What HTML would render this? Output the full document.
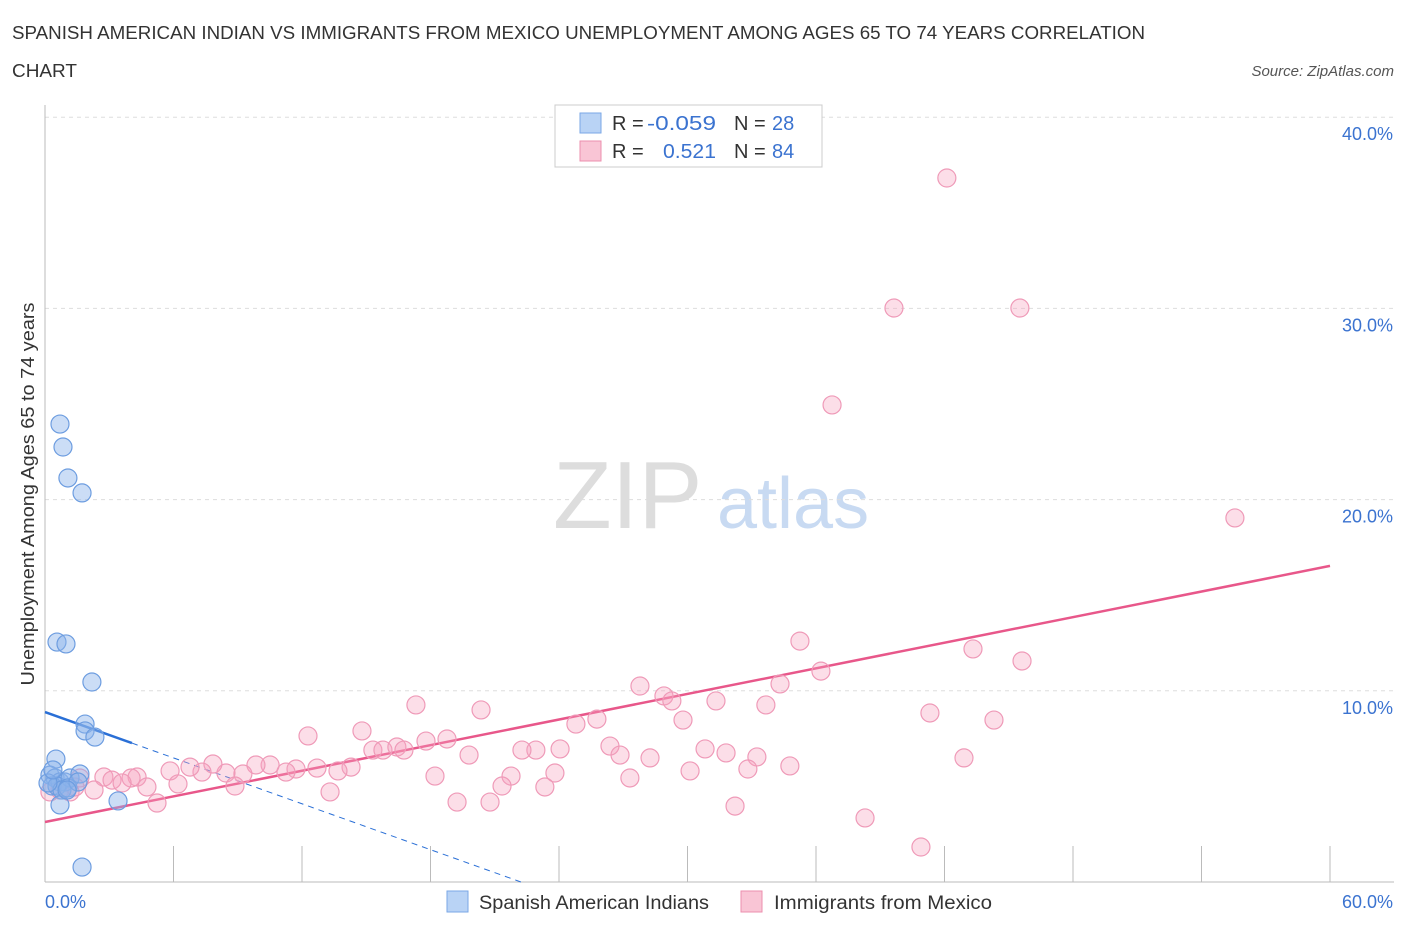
<!DOCTYPE html>
<html><head><meta charset="utf-8"><style>
body{margin:0;background:#fff;font-family:"Liberation Sans",sans-serif;}
svg text{font-family:"Liberation Sans",sans-serif;}
</style></head><body>
<svg id="chart" width="1406" height="930" viewBox="0 0 1406 930" xmlns="http://www.w3.org/2000/svg">
<text x="12" y="39" font-size="18" fill="#333" textLength="1133" lengthAdjust="spacingAndGlyphs">SPANISH AMERICAN INDIAN VS IMMIGRANTS FROM MEXICO UNEMPLOYMENT AMONG AGES 65 TO 74 YEARS CORRELATION</text>
<text x="12" y="77" font-size="18" fill="#333" textLength="65" lengthAdjust="spacingAndGlyphs">CHART</text>
<text x="1394" y="76" font-size="15" fill="#555" font-style="italic" text-anchor="end">Source: ZipAtlas.com</text>
<g>
<text x="553" y="528" font-size="96" fill="#ddd" font-family="Liberation Serif, serif">ZIP</text>
<text x="717" y="528" font-size="72" fill="#c8daf2">atlas</text>
</g>
<g id="grid"></g>
<g id="axes"></g>
<g id="lines"></g>
<g id="points"></g>
<text transform="translate(34,494) rotate(-90)" font-size="18" fill="#333" text-anchor="middle" textLength="383" lengthAdjust="spacingAndGlyphs">Unemployment Among Ages 65 to 74 years</text>
<text x="45" y="908" font-size="18" fill="#3b73d0">0.0%</text>
<text x="1393" y="908" font-size="18" fill="#3b73d0" text-anchor="end">60.0%</text>
<g>
<rect x="555" y="105" width="267" height="62" fill="#fff" stroke="#ccc"/>
<rect x="580" y="113" width="21" height="20" fill="#b9d3f5" stroke="#7aa7e6"/>
<text x="612" y="130" font-size="20" fill="#333">R =</text>
<text x="647" y="130" font-size="20" fill="#3b73d0" textLength="69" lengthAdjust="spacingAndGlyphs">-0.059</text>
<text x="734" y="130" font-size="20" fill="#333">N =</text>
<text x="772" y="130" font-size="20" fill="#3b73d0">28</text>
<rect x="580" y="141" width="21" height="20" fill="#f9c5d5" stroke="#ec8fae"/>
<text x="612" y="158" font-size="20" fill="#333">R =</text>
<text x="663" y="158" font-size="20" fill="#3b73d0" textLength="53" lengthAdjust="spacingAndGlyphs">0.521</text>
<text x="734" y="158" font-size="20" fill="#333">N =</text>
<text x="772" y="158" font-size="20" fill="#3b73d0">84</text>
</g>
<g>
<rect x="447" y="891" width="21" height="21" fill="#b9d3f5" stroke="#7aa7e6"/>
<text x="479" y="909" font-size="19" fill="#333" textLength="230" lengthAdjust="spacingAndGlyphs">Spanish American Indians</text>
<rect x="741" y="891" width="21" height="21" fill="#f9c5d5" stroke="#ec8fae"/>
<text x="774" y="909" font-size="19" fill="#333" textLength="218" lengthAdjust="spacingAndGlyphs">Immigrants from Mexico</text>
</g>
</svg>
<script>
const yTicks=[10,20,30,40];
const yTickLabels=["10.0%","20.0%","30.0%","40.0%"];
const xTicks=[0,6,12,18,24,30,36,42,48,54,60];
const blueX=[0.70,0.84,1.07,1.73,0.56,0.98,2.19,1.87,1.87,2.33,0.51,0.23,0.47,0.70,0.93,0.33,0.56,1.17,1.63,0.79,1.07,0.14,1.54,0.70,3.41,1.73,1.03,0.37];
const blueY=[23.95,22.75,21.13,20.35,12.55,12.45,10.46,8.26,7.90,7.58,6.43,5.59,5.44,5.23,5.23,5.02,5.02,5.44,5.65,4.81,4.92,5.18,5.23,4.03,4.24,0.78,4.81,5.86];
const pinkX=[42.11,39.64,45.52,36.75,55.56,35.25,43.33,45.62,36.23,27.78,28.90,29.27,31.33,34.32,41.32,44.31,33.66,29.79,25.77,24.79,20.36,17.32,14.80,12.28,18.77,17.79,26.38,24.05,22.92,22.27,15.31,15.78,16.43,16.76,30.82,31.80,33.24,28.25,26.85,19.80,14.29,12.70,13.68,11.72,11.25,10.51,9.85,9.24,8.45,7.84,7.33,6.77,5.84,4.30,4.02,2.75,3.13,1.63,3.60,4.76,2.29,0.70,0.23,1.17,6.21,8.87,13.31,21.76,23.81,18.21,27.31,30.12,32.82,34.78,42.91,21.34,23.34,19.24,20.78,32.22,38.29,40.90,5.23,1.40];
const pinkY=[36.82,30.02,30.02,24.95,19.04,12.60,12.19,11.56,11.03,10.25,9.73,9.47,9.47,10.36,8.84,8.47,9.26,8.47,8.52,8.26,9.00,9.26,7.90,7.64,7.48,7.37,7.11,6.96,6.90,6.90,6.90,6.90,7.06,6.90,6.96,6.75,6.54,6.49,6.64,6.64,6.01,5.96,5.81,5.91,5.75,6.12,6.12,5.65,5.70,6.17,5.75,6.01,5.81,5.49,5.44,5.49,5.33,5.44,5.18,4.97,4.81,4.81,4.71,4.71,5.13,5.02,4.71,5.54,5.70,5.54,5.44,5.81,5.91,6.07,6.49,5.02,4.97,4.18,4.18,3.97,3.35,1.83,4.13,4.97];
const blueFit=[8.89,-0.40];
const pinkFit=[3.14,0.2232];
const X0=45,X1=1330,Y0=882,PPY=19.12;
function sx(v){return X0+(X1-X0)*v/60;}
function sy(v){return Y0-v*PPY;}
const NS="http://www.w3.org/2000/svg";
function mk(t,a,p){const e=document.createElementNS(NS,t);for(const k in a)e.setAttribute(k,a[k]);p.appendChild(e);return e;}
const grid=document.getElementById('grid');
yTicks.forEach((t,i)=>{
  const l=mk('line',{x1:X0,x2:1394,y1:sy(t),y2:sy(t),stroke:'#ddd','stroke-dasharray':'4,4'},grid);
  
  
  const tx=mk('text',{x:1393,y:sy(t)+23,'font-size':18,fill:'#3b73d0','text-anchor':'end'},grid);
  tx.textContent=yTickLabels[i];
  
  
});
const axes=document.getElementById('axes');
const ya=mk('line',{x1:X0,x2:X0,y1:105,y2:Y0,stroke:'#bbb'},axes);


const xa=mk('line',{x1:X0,x2:1394,y1:Y0,y2:Y0,stroke:'#bbb'},axes);


xTicks.forEach(t=>{
  const l=mk('line',{x1:sx(t),x2:sx(t),y1:846,y2:Y0,stroke:'#bbb'},axes);
  
  
});
const lines=document.getElementById('lines');
const bEnd=4.06, bZero=-blueFit[0]/blueFit[1];
const bl=mk('line',{x1:sx(0),y1:sy(blueFit[0]),x2:sx(bEnd),y2:sy(blueFit[0]+blueFit[1]*bEnd),stroke:'#2a6fd6','stroke-width':2.5},lines);


const bd=mk('line',{x1:sx(bEnd),y1:sy(blueFit[0]+blueFit[1]*bEnd),x2:sx(bZero),y2:sy(0),stroke:'#2a6fd6','stroke-width':1,'stroke-dasharray':'6,5'},lines);


const pl=mk('line',{x1:sx(0),y1:sy(pinkFit[0]),x2:sx(60),y2:sy(pinkFit[0]+pinkFit[1]*60),stroke:'#e8578a','stroke-width':2.5},lines);


const pts=document.getElementById('points');
pinkX.forEach((x,i)=>{
  const c=mk('circle',{cx:sx(x),cy:sy(pinkY[i]),r:9,fill:'rgba(245,160,188,0.35)',stroke:'#ef9ab8','stroke-width':1.2},pts);
  
  
});
blueX.forEach((x,i)=>{
  const c=mk('circle',{cx:sx(x),cy:sy(blueY[i]),r:9,fill:'rgba(140,180,235,0.45)',stroke:'#6d9de0','stroke-width':1.2},pts);
  
  
});
</script>
</body></html>
